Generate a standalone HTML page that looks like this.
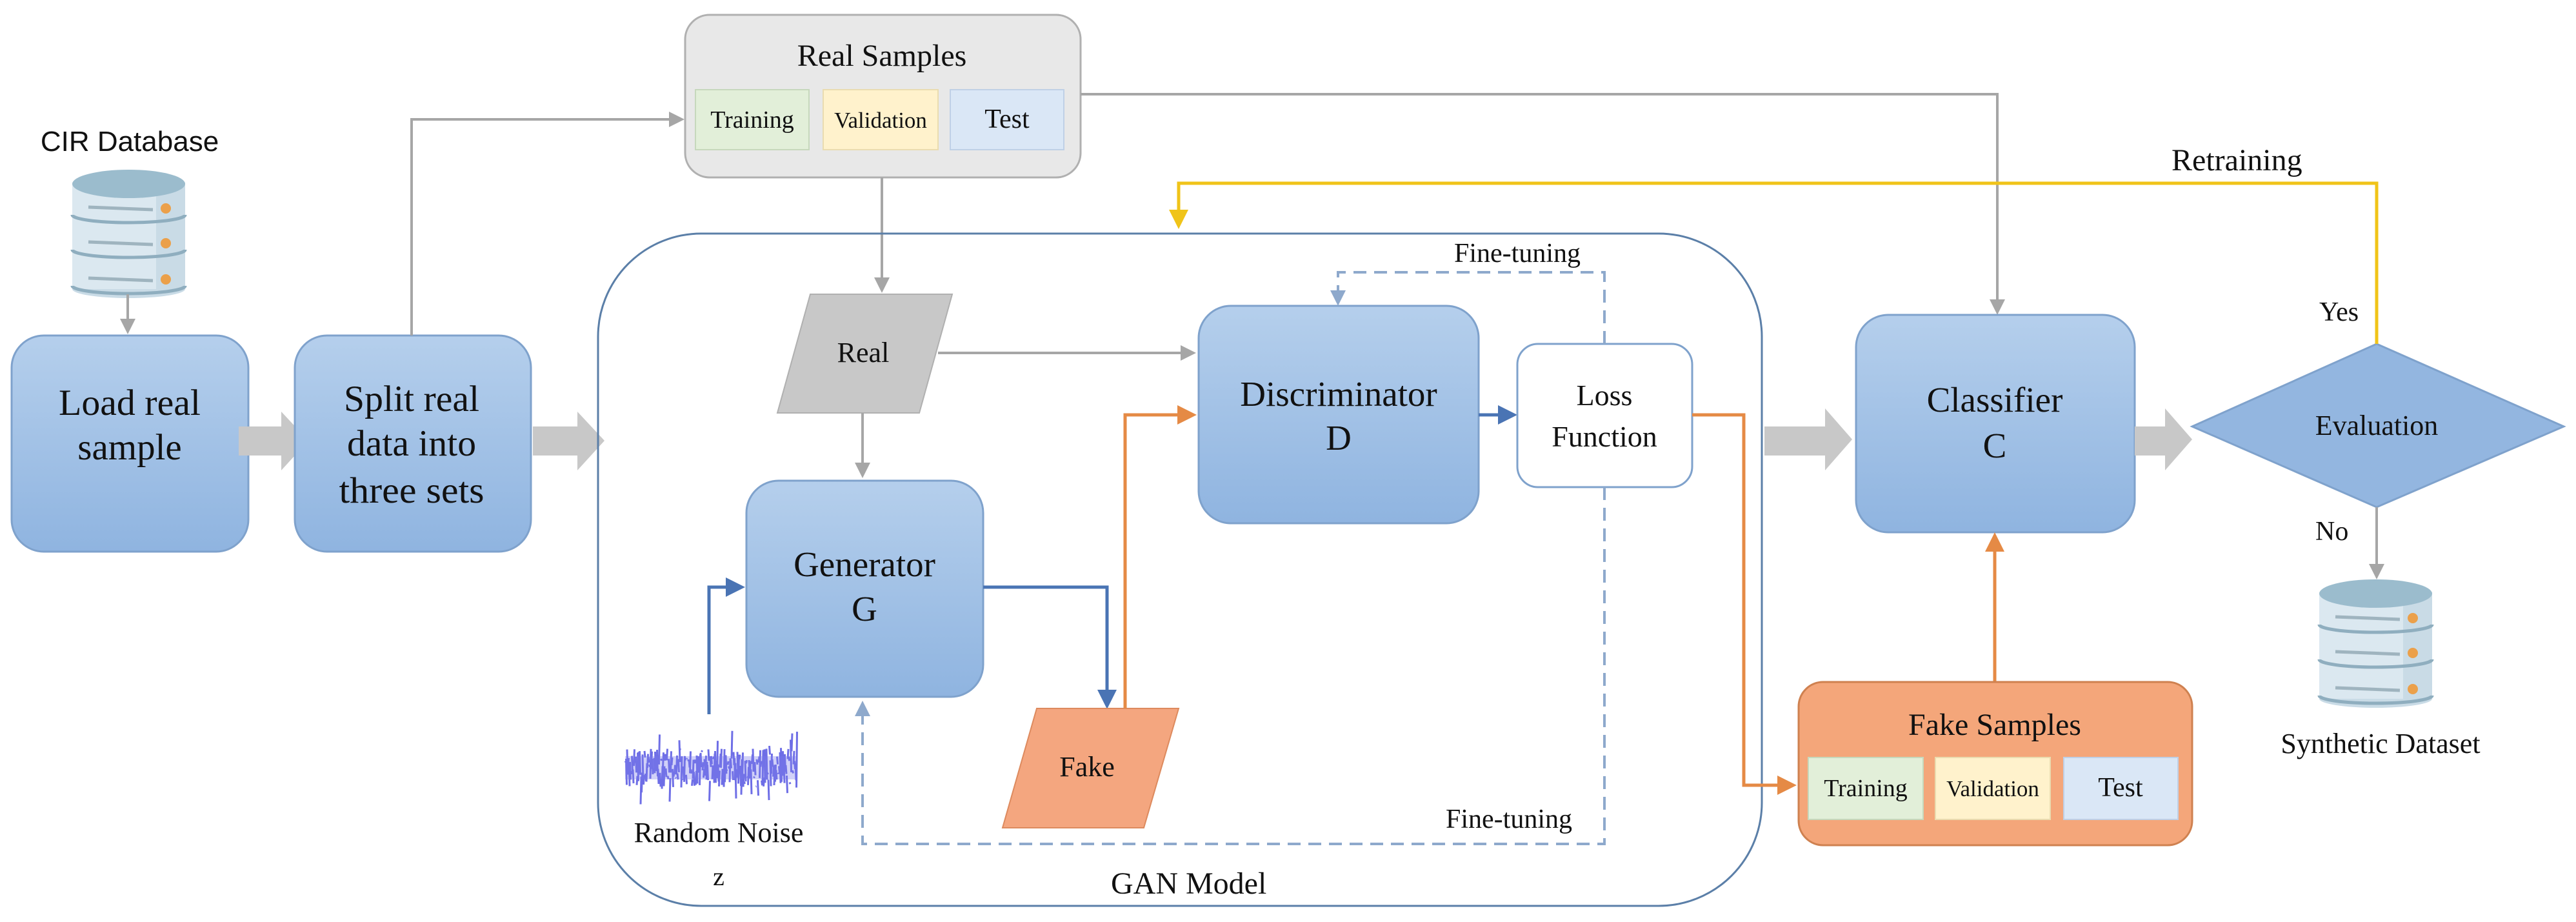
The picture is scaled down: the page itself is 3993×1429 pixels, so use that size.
<!DOCTYPE html>
<html><head><meta charset="utf-8"><style>
html,body{margin:0;padding:0;background:#fff}
svg{display:block}
.s{font-family:"Liberation Serif",serif;fill:#111}
.a{font-family:"Liberation Sans",sans-serif;fill:#111}
</style></head><body>
<svg width="3993" height="1429" viewBox="0 0 3993 1429" xmlns="http://www.w3.org/2000/svg">
<defs>
<linearGradient id="bg" x1="0" y1="0" x2="0" y2="1"><stop offset="0" stop-color="#b5cfec"/><stop offset="1" stop-color="#8fb4e0"/></linearGradient>
<marker id="mg" markerWidth="6" markerHeight="6" refX="5" refY="3" orient="auto" markerUnits="strokeWidth"><path d="M0,0 L6,3 L0,6 z" fill="#a6a6a6"/></marker>
<marker id="mb" markerWidth="6" markerHeight="6" refX="5" refY="3" orient="auto" markerUnits="strokeWidth"><path d="M0,0 L6,3 L0,6 z" fill="#4a74b4"/></marker>
<marker id="mo" markerWidth="6" markerHeight="6" refX="5" refY="3" orient="auto" markerUnits="strokeWidth"><path d="M0,0 L6,3 L0,6 z" fill="#e58a45"/></marker>
<marker id="my" markerWidth="6" markerHeight="6" refX="5" refY="3" orient="auto" markerUnits="strokeWidth"><path d="M0,0 L6,3 L0,6 z" fill="#f0c419"/></marker>
<marker id="md" markerWidth="6" markerHeight="6" refX="5" refY="3" orient="auto" markerUnits="strokeWidth"><path d="M0,0 L6,3 L0,6 z" fill="#8ea9cc"/></marker>
<g id="db">
 <rect x="0" y="20" width="175" height="165" fill="#dbe8f0"/>
 <rect x="130" y="20" width="45" height="165" fill="#c9dbe6"/>
 <path d="M0,185 A87.5,14 0 0 0 175,185" fill="#c9dbe6"/>
 <path d="M0,70 A87.5,12 0 0 0 175,70 M0,124 A87.5,12 0 0 0 175,124 M0,180 A87.5,12 0 0 0 175,180" fill="none" stroke="#8faebf" stroke-width="5"/>
 <ellipse cx="87.5" cy="22" rx="87.5" ry="22" fill="#9bbccd"/>
 <path d="M25,58 L125,62 M25,112 L125,116 M25,168 L125,172" stroke="#9fb4bf" stroke-width="5"/>
 <circle cx="145" cy="60" r="8" fill="#eba04a"/><circle cx="145" cy="114" r="8" fill="#eba04a"/><circle cx="145" cy="170" r="8" fill="#eba04a"/>
</g>
</defs>

<text class="a" x="201" y="234" font-size="44" text-anchor="middle">CIR Database</text>
<use href="#db" x="112" y="263"/>
<line x1="198" y1="456" x2="198" y2="514" stroke="#a6a6a6" stroke-width="4" marker-end="url(#mg)"/>

<rect x="18" y="520" width="367" height="335" rx="50" fill="url(#bg)" stroke="#7fa2cc" stroke-width="3"/>
<text class="s" x="201" y="643" font-size="57" text-anchor="middle" textLength="220" lengthAdjust="spacingAndGlyphs">Load real</text>
<text class="s" x="201" y="712" font-size="57" text-anchor="middle">sample</text>
<path d="M370,661 H436 V638 L478,683 L436,729 V706 H370 Z" fill="#c8c8c8"/>
<rect x="457" y="520" width="366" height="335" rx="50" fill="url(#bg)" stroke="#7fa2cc" stroke-width="3"/>
<text class="s" x="638" y="637" font-size="57" text-anchor="middle" textLength="210" lengthAdjust="spacingAndGlyphs">Split real</text>
<text class="s" x="638" y="706" font-size="57" text-anchor="middle" textLength="200" lengthAdjust="spacingAndGlyphs">data into</text>
<text class="s" x="638" y="779" font-size="57" text-anchor="middle" textLength="225" lengthAdjust="spacingAndGlyphs">three sets</text>
<path d="M826,661 H895 V638 L937,683 L895,729 V706 H826 Z" fill="#c8c8c8"/>
<polyline points="638,520 638,185 1057,185" fill="none" stroke="#a6a6a6" stroke-width="4" marker-end="url(#mg)"/>

<rect x="1062" y="23" width="613" height="252" rx="38" fill="#e8e8e8" stroke="#b0b0b0" stroke-width="3"/>
<text class="s" x="1367" y="102" font-size="48" text-anchor="middle">Real Samples</text>
<rect x="1078" y="139" width="176" height="93" fill="#e2efd9" stroke="#c6d8bc" stroke-width="2"/>
<rect x="1276" y="139" width="178" height="93" fill="#fff2cc" stroke="#eadcb0" stroke-width="2"/>
<rect x="1473" y="139" width="176" height="93" fill="#dae7f6" stroke="#bfd0e6" stroke-width="2"/>
<text class="s" x="1166" y="198" font-size="38" text-anchor="middle">Training</text>
<text class="s" x="1365" y="198" font-size="35" text-anchor="middle">Validation</text>
<text class="s" x="1561" y="198" font-size="42" text-anchor="middle">Test</text>
<polyline points="1675,146 3096,146 3096,484" fill="none" stroke="#a6a6a6" stroke-width="4" marker-end="url(#mg)"/>
<line x1="1367" y1="275" x2="1367" y2="450" stroke="#a6a6a6" stroke-width="4" marker-end="url(#mg)"/>

<rect x="927" y="362" width="1804" height="1042" rx="160" fill="none" stroke="#5b7fa8" stroke-width="3"/>
<text class="s" x="1722" y="1385" font-size="48">GAN Model</text>

<polygon points="1256,456 1476,456 1425,640 1205,640" fill="#c8c8c8" stroke="#b0b0b0" stroke-width="2"/>
<text class="s" x="1338" y="561" font-size="44" text-anchor="middle">Real</text>
<line x1="1454" y1="547" x2="1850" y2="547" stroke="#a6a6a6" stroke-width="4" marker-end="url(#mg)"/>
<line x1="1337" y1="640" x2="1337" y2="737" stroke="#a6a6a6" stroke-width="4" marker-end="url(#mg)"/>

<rect x="1157" y="745" width="367" height="335" rx="50" fill="url(#bg)" stroke="#7fa2cc" stroke-width="3"/>
<text class="s" x="1340" y="893" font-size="55" text-anchor="middle">Generator</text>
<text class="s" x="1340" y="962" font-size="55" text-anchor="middle">G</text>
<polyline points="1099,1107 1099,910 1150,910" fill="none" stroke="#4a74b4" stroke-width="5" marker-end="url(#mb)"/>
<polyline points="1524,910 1716,910 1716,1094" fill="none" stroke="#4a74b4" stroke-width="5" marker-end="url(#mb)"/>

<g id="noise" stroke="#4a4ae0" stroke-width="3" fill="none" opacity="0.8"></g>
<text class="s" x="1114" y="1305" font-size="44" text-anchor="middle">Random  Noise</text>
<text class="s" x="1114" y="1372" font-size="40" text-anchor="middle">z</text>

<polygon points="1607,1098 1827,1098 1773,1283 1554,1283" fill="#f4a67f" stroke="#dd8a5e" stroke-width="2"/>
<text class="s" x="1685" y="1203" font-size="44" text-anchor="middle">Fake</text>
<polyline points="1744,1098 1744,643 1850,643" fill="none" stroke="#e58a45" stroke-width="5" marker-end="url(#mo)"/>

<rect x="1858" y="474" width="434" height="337" rx="50" fill="url(#bg)" stroke="#7fa2cc" stroke-width="3"/>
<text class="s" x="2075" y="629" font-size="55" text-anchor="middle">Discriminator</text>
<text class="s" x="2075" y="697" font-size="55" text-anchor="middle">D</text>
<line x1="2292" y1="643" x2="2347" y2="643" stroke="#4a74b4" stroke-width="5" marker-end="url(#mb)"/>

<rect x="2352" y="533" width="271" height="222" rx="32" fill="#fff" stroke="#7fa2cc" stroke-width="3"/>
<text class="s" x="2487" y="628" font-size="46" text-anchor="middle">Loss</text>
<text class="s" x="2487" y="692" font-size="46" text-anchor="middle">Function</text>

<polyline points="2487,533 2487,422 2074,422 2074,470" fill="none" stroke="#8ea9cc" stroke-width="4" stroke-dasharray="20,12" marker-end="url(#md)"/>
<polyline points="2487,755 2487,1308 1337,1308 1337,1090" fill="none" stroke="#8ea9cc" stroke-width="4" stroke-dasharray="20,12" marker-end="url(#md)"/>
<text class="s" x="2254" y="406" font-size="42">Fine-tuning</text>
<text class="s" x="2241" y="1283" font-size="42">Fine-tuning</text>

<polyline points="2623,643 2703,643 2703,1217 2780,1217" fill="none" stroke="#e58a45" stroke-width="5" marker-end="url(#mo)"/>

<path d="M2735,661 H2829 V633 L2871,681 L2829,729 V706 H2735 Z" fill="#c8c8c8"/>
<rect x="2877" y="488" width="432" height="337" rx="50" fill="url(#bg)" stroke="#7fa2cc" stroke-width="3"/>
<text class="s" x="3092" y="638" font-size="55" text-anchor="middle">Classifier</text>
<text class="s" x="3092" y="709" font-size="55" text-anchor="middle">C</text>
<path d="M3309,661 H3356 V633 L3398,681 L3356,729 V706 H3309 Z" fill="#c8c8c8"/>

<polygon points="3398,661 3684,533 3974,661 3684,786" fill="#93b6e0" stroke="#7fa2cc" stroke-width="3"/>
<text class="s" x="3684" y="674" font-size="44" text-anchor="middle">Evaluation</text>
<polyline points="3684,533 3684,284 1827,284 1827,350" fill="none" stroke="#f0c419" stroke-width="5" marker-end="url(#my)"/>
<text class="s" x="3366" y="264" font-size="48">Retraining</text>
<text class="s" x="3595" y="497" font-size="42">Yes</text>
<text class="s" x="3589" y="837" font-size="42">No</text>
<line x1="3684" y1="786" x2="3684" y2="894" stroke="#a6a6a6" stroke-width="4" marker-end="url(#mg)"/>
<use href="#db" x="3595" y="898"/>
<text class="s" x="3690" y="1167" font-size="44" text-anchor="middle">Synthetic  Dataset</text>

<line x1="3092" y1="1057" x2="3092" y2="830" stroke="#e58a45" stroke-width="5" marker-end="url(#mo)"/>
<rect x="2788" y="1057" width="610" height="253" rx="38" fill="#f4a67a" stroke="#cf8150" stroke-width="3"/>
<text class="s" x="3092" y="1139" font-size="48" text-anchor="middle">Fake Samples</text>
<rect x="2803" y="1174" width="178" height="96" fill="#e2efd9" stroke="#c6d8bc" stroke-width="2"/>
<rect x="3000" y="1174" width="178" height="96" fill="#fff2cc" stroke="#eadcb0" stroke-width="2"/>
<rect x="3199" y="1174" width="177" height="96" fill="#dae7f6" stroke="#bfd0e6" stroke-width="2"/>
<text class="s" x="2892" y="1234" font-size="38" text-anchor="middle">Training</text>
<text class="s" x="3089" y="1234" font-size="35" text-anchor="middle">Validation</text>
<text class="s" x="3287" y="1234" font-size="42" text-anchor="middle">Test</text>
</svg>
<script>
(function(){
var g=document.getElementById('noise');var d='';var s=12345;
function r(){s=(s*9301+49297)%233280;return s/233280;}
for(var x=969;x<=1235;x+=1.5){var a=(r()-0.5)*(r()<0.15?120:60);var b=(r()-0.5)*(r()<0.15?120:60);
d+='M'+x+','+(1190+a)+' L'+(x+1)+','+(1190+b)+' ';}
var p=document.createElementNS('http://www.w3.org/2000/svg','path');p.setAttribute('d',d);g.appendChild(p);
var e=document.createElementNS('http://www.w3.org/2000/svg','rect');
e.setAttribute('x','969');e.setAttribute('y','1172');e.setAttribute('width','266');e.setAttribute('height','36');
e.setAttribute('fill','#5a5ae6');e.setAttribute('stroke','none');e.setAttribute('opacity','0.35');g.appendChild(e);
})();
</script>
</body></html>
